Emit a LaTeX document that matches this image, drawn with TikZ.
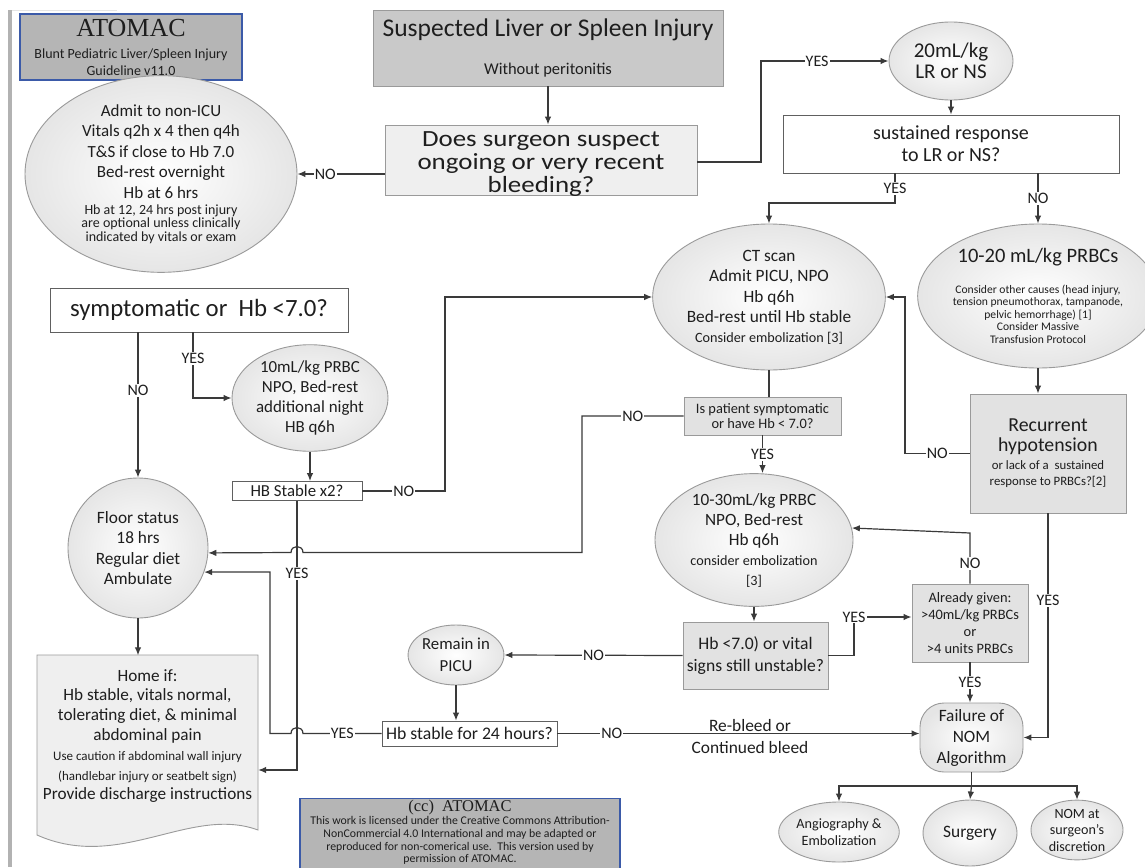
\documentclass[tikz,border=0pt]{standalone}
\usepackage{fontspec}
\setmainfont{Carlito}
\newfontfamily\widef{Carlito}[FakeStretch=1.16]
\newfontfamily\timesf{Liberation Serif}
\usetikzlibrary{arrows.meta,shapes.geometric}
\newcommand{\myfs}[2]{\fontsize{#1}{#2}\selectfont\lineskiplimit=-1000pt\lineskip=0pt\relax}
\definecolor{lc}{HTML}{3A3A3A}
\definecolor{tc}{HTML}{1E1E1E}
\definecolor{bl}{HTML}{3B5AA8}
\definecolor{g1}{HTML}{B5B5B5}
\definecolor{g2}{HTML}{C9C9C9}
\definecolor{g3}{HTML}{EFEFEF}
\definecolor{g4}{HTML}{E2E2E2}
\definecolor{bd}{HTML}{9A9A9A}
\begin{document}
\begin{tikzpicture}[x=1pt,y=-1pt,
  box/.style={rectangle, draw=bd, line width=0.9pt, inner sep=0pt, align=center, text=tc},
  wbox/.style={box, fill=white, draw=gray!75!black},
  gbox/.style={box, fill=g4},
  ell/.style={ellipse, draw=bd, line width=0.9pt, inner sep=0pt, align=center, text=tc,
     shading=radial, inner color=white, outer color=gray!20},
  blbox/.style={box, fill=g1, draw=bl, line width=1.4pt},
  txt/.style={inner sep=0pt, align=center, text=tc},
  arr/.style={draw=lc, line width=1.2pt, -{Latex[length=8pt,width=6.5pt]}},
  ln/.style={draw=lc, line width=1.2pt},
  lbl/.style={fill=white, inner sep=1.2pt, text=tc, font=\myfs{16}{16}}]
\clip (0,0) rectangle (1145,867);
\fill[white] (0,0) rectangle (1145,867);
\fill[gray!60] (8,10) rectangle (12,867);
\draw[gray!20, line width=0.8pt] (12,10) -- (117,10);

% ---------- nodes ----------
\node[blbox, minimum width=222, minimum height=66, font=\myfs{14}{16.5}] (atomac) at (131,47)
  {{\timesf\myfs{26}{26}ATOMAC}\\[6pt]Blunt Pediatric Liver/Spleen Injury\\Guideline v11.0};
\node[box, fill=g2, minimum width=350, minimum height=76, font=\myfs{16.5}{38}] (susp) at (548,48)
  {{\myfs{25.5}{25.5}Suspected Liver or Spleen Injury}\\Without peritonitis};
\node[box, fill=g3, minimum width=312, minimum height=70] (does) at (541,160) {};
\node[txt, font={\widef\myfs{23.2}{23.2}}] (doesT) at (541,164)
  {Does surgeon suspect\\ongoing or very recent\\bleeding?};
\node[ell, minimum width=124, minimum height=78, font=\myfs{21}{20.5}] (lr) at (951,61)
  {20mL/kg\\LR or NS};
\node[wbox, minimum width=336, minimum height=58, font=\myfs{20}{22}] (sust) at (951,144)
  {sustained response\\to LR or NS?};
\node[ell, minimum width=272, minimum height=176, font=\myfs{17}{20.5}] (admit) at (161,174)
  {Admit to non-ICU\\Vitals q2h x 4 then q4h\\T\&S if close to Hb 7.0\\Bed-rest overnight\\Hb at 6 hrs\\[-4.5pt]
   {\myfs{14}{14}Hb at 12, 24 hrs post injury}\\[-7pt]{\myfs{14}{14}are optional unless clinically}\\[-7pt]
   {\myfs{14}{14}indicated by vitals or exam}};
\node[ell, minimum width=222, minimum height=146, font=\myfs{17.3}{20.5}] (ct) at (769,297)
  {CT scan\\Admit PICU, NPO\\Hb q6h\\Bed-rest until Hb stable\\[-1pt]{\myfs{14.2}{14}Consider embolization [3]}};
\node[ell, minimum width=202, minimum height=144, font=\myfs{11.6}{12.5}] (pr) at (1038,296)
  {{\myfs{20.5}{20}10-20 mL/kg PRBCs}\\[18pt]Consider other causes (head injury,\\tension pneumothorax, tampanode,\\pelvic hemorrhage) [1]\\Consider Massive\\Transfusion Protocol};
\node[gbox, minimum width=156, minimum height=119, font=\myfs{12.8}{16}] (rec) at (1048,453.5)
  {{\myfs{19.8}{20}Recurrent}\\[4pt]{\myfs{19.8}{20}hypotension}\\[2pt]or lack of a\ \ sustained\\response to PRBCs?[2]};
\node[wbox, minimum width=298, minimum height=44, font=\myfs{24.8}{26}] (symp) at (199,310)
  {symptomatic or\ \ Hb <7.0?};
\node[ell, minimum width=156, minimum height=100, font=\myfs{16.9}{20.3}] (m10) at (310,398)
  {10mL/kg PRBC\\NPO, Bed-rest\\additional night\\HB q6h};
\node[wbox, minimum width=130, minimum height=19, font=\myfs{16.8}{17}] (hbs) at (297,491)
  {HB Stable x2?};
\node[gbox, minimum width=157, minimum height=38, font=\myfs{14.4}{15}] (isp) at (762.5,416)
  {Is patient symptomatic\\or have Hb < 7.0?};
\node[ell, minimum width=198, minimum height=116, font=\myfs{17.2}{20}] (m30) at (754,540)
  {10-30mL/kg PRBC\\NPO, Bed-rest\\Hb q6h\\{\myfs{14.2}{14}consider embolization}\\{\myfs{14.2}{14}[3]}};
\node[circle, draw=bd, line width=0.9pt, inner sep=0pt, align=center, text=tc, minimum size=140,
  shading=radial, inner color=white, outer color=gray!20, font=\myfs{17.3}{20.5}] (floor) at (138,548)
  {Floor status\\18 hrs\\Regular diet\\Ambulate};
\node[gbox, minimum width=145, minimum height=67, font=\myfs{17.6}{22}] (hb7) at (755.5,655.5)
  {Hb <7.0) or vital\\signs still unstable?};
\node[ell, minimum width=86, minimum height=60, font=\myfs{16.8}{22}] (picu) at (456,655)
  {Remain in\\PICU};
\node[wbox, minimum width=175, minimum height=25, font=\myfs{17.7}{18}] (h24) at (469.5,733.5)
  {Hb stable for 24 hours?};
\node[gbox, minimum width=116, minimum height=78, font=\myfs{14.4}{17}] (already) at (970,623)
  {Already given:\\>40mL/kg PRBCs\\or\\>4 units PRBCs};
\node[box, rounded corners=24pt, minimum width=103, minimum height=69, font=\myfs{17.3}{21},
  shading=radial, inner color=white, outer color=gray!20] (fail) at (971.5,737.5)
  {Failure of\\NOM\\Algorithm};
\node[ell, minimum width=116, minimum height=60, font=\myfs{14.2}{17}] (angio) at (839,832)
  {Angiography \&\\Embolization};
\node[ell, minimum width=94, minimum height=66, font=\myfs{17.4}{18}] (surg) at (970,833)
  {Surgery};
\node[ell, minimum width=92, minimum height=56, font=\myfs{14.1}{16.5}] (nomd) at (1077,830)
  {NOM at\\surgeon's\\discretion};
% Home document shape
\filldraw[fill=g3, draw=bd, line width=0.9pt] (37,655) -- (258,655) -- (258,830)
  .. controls (190,805) and (120,872) .. (37,835) -- cycle;
\node[txt, minimum width=221, minimum height=161, font=\myfs{17.2}{19.8}] (home) at (147.5,736)
  {Home if:\\Hb stable, vitals normal,\\tolerating diet, \& minimal\\abdominal pain\\
   {\myfs{13}{13}Use caution if abdominal wall injury}\\{\myfs{13}{13}(handlebar injury or seatbelt sign)}\\
   Provide discharge instructions};
\node[blbox, anchor=north, minimum width=320, minimum height=90] (cc) at (460,798) {};
\node[txt, anchor=north, font=\myfs{11.8}{12.8}] (ccT) at (460,800)
  {{\timesf\myfs{16.5}{16}(cc)\ \ ATOMAC}\\This work is licensed under the Creative Commons Attribution-\\
   NonCommercial 4.0 International and may be adapted or\\reproduced for non-comerical use.\ \ This version used by\\
   permission of ATOMAC.};

% ---------- coordinates ----------
\coordinate (y1) at (761,162);
\coordinate (s2) at (895,203);
\coordinate (r1) at (905,453.5);
\coordinate (i1) at (582,416);
\coordinate (i2) at (582,552.5);
\coordinate (sy) at (193,398);
\coordinate (h1) at (445,491);
\coordinate (h3) at (297,770);
\coordinate (t1) at (270,733.5);
\coordinate (t2) at (270,572);
\coordinate (y2) at (854,617);
\coordinate (a1) at (970,533);
\coordinate (fb) at (971.5,786);

% ---------- connectors ----------
\draw[arr] (susp.south) -- (susp.south |- does.north);
\draw[arr] (does.west |- admit.east) -- node[lbl,pos=0.68] (l1) {NO} (admit.east);
\draw[arr] (does.east |- y1) -- (y1) |- node[lbl,pos=0.72] (l2) {YES} (lr.west);
\draw[arr] (lr.south) -- (lr.south |- sust.north);
\draw[arr] (sust.south -| s2) -- node[lbl] (l3) {YES} (s2) -| (ct.north);
\draw[arr] (sust.south -| pr.north) -- node[lbl] (l4) {NO} (pr.north);
\draw[arr] (pr.south) -- (pr.south |- rec.north);
\draw[arr] (rec.west) -- node[lbl] (l5) {NO} (r1) |- (ct.east);
\draw[arr] (rec.south) -- node[lbl,pos=0.39] (l6) {YES} (rec.south |- fail.east) -- (fail.east);
\draw[ln] (ct.south) -- (ct.south |- isp.north);
\draw[arr] (isp.south) -- node[lbl] (l7) {YES} (isp.south |- m30.north);
\draw[arr] (isp.west) -- node[lbl] (l8) {NO} (i1) -- (i2) -- (303,552.5)
  .. controls (303,544.5) and (291,544.5) .. (291,552.5) -- (floor.-4);
\draw[arr] (symp.south -| floor.north) -- node[lbl,pos=0.4] (l9) {NO} (floor.north);
\draw[arr] (symp.south -| sy) -- node[lbl,pos=0.4] (l10) {YES} (sy) -- (m10.west);
\draw[arr] (m10.south) -- (m10.south |- hbs.north);
\draw[arr] (hbs.east) -- node[lbl] (l11) {NO} (h1) |- (ct.west);
\draw[arr] (hbs.south) -- node[lbl,pos=0.27] (l12) {YES} (h3) -- (home.east |- h3);
\draw[arr] (h24.west) -- node[lbl] (l13) {YES} (303,733.5)
  .. controls (303,725.5) and (291,725.5) .. (291,733.5) -- (t1) -- (t2) -- (floor.-20);
\draw[arr] (floor.south) -- (floor.south |- home.north);
\draw[arr] (m30.south) -- (m30.south |- hb7.north);
\draw[arr] (hb7.west) -- node[lbl] (l14) {NO} (picu.east);
\draw[arr] (picu.south) -- (picu.south |- h24.north);
\draw[arr] (h24.east) -- node[lbl,pos=0.15] (l15) {NO} (h24.east -| fail.west);
\node[anchor=base, text=tc, font=\myfs{17.4}{18}] (rb) at (750,731) {Re-bleed or};
\node[anchor=base, text=tc, font=\myfs{17.4}{18}] (cb) at (750,753) {Continued bleed};
\draw[arr] (hb7.east) -| (y2) -- (already.west |- y2);
\node[lbl] (l16) at (y2) {YES};
\draw[arr] (already.north) -- node[lbl,pos=0.39] (l17) {NO} (a1) -- (m30.7);
\draw[arr] (already.south) -- node[lbl] (l18) {YES} (already.south |- fail.north);
\draw[ln] (fail.south) -- (fb);
\draw[arr] (fb) -| (angio.north);
\draw[arr] (fb) -- (surg.north);
\draw[arr] (fb) -| (nomd.north);
\end{tikzpicture}
\end{document}
